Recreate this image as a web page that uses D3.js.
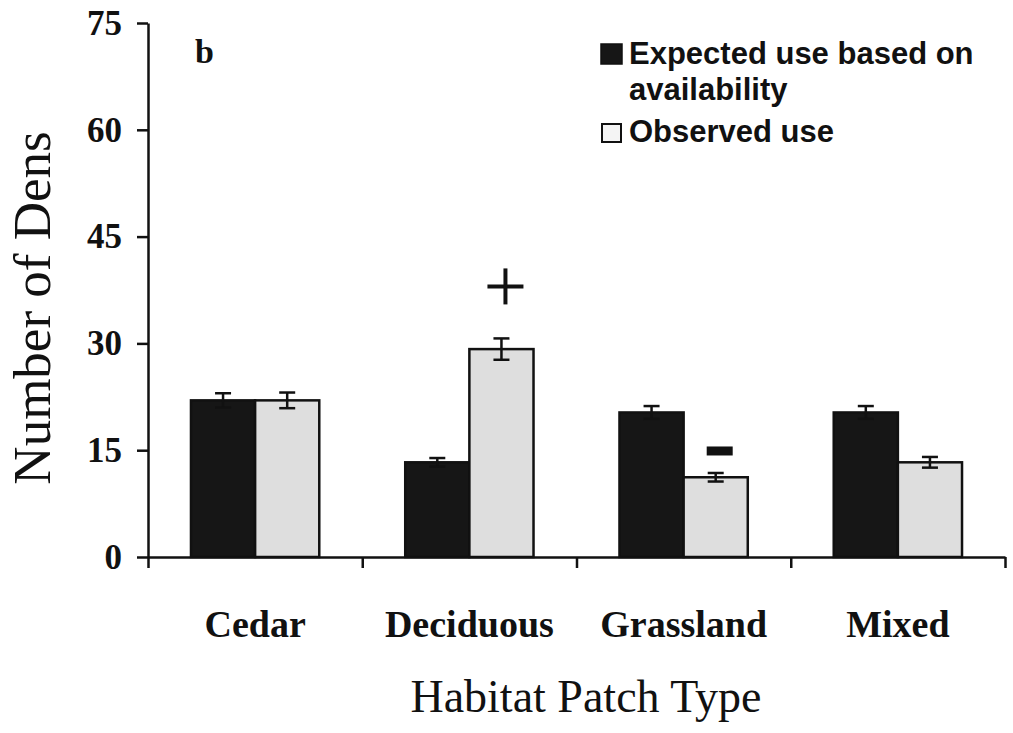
<!DOCTYPE html>
<html>
<head>
<meta charset="utf-8">
<script src="https://cdn.jsdelivr.net/npm/d3@7"></script>
<style>
  body { margin: 0; background: #fff; }
  svg { display: block; }
  .serif { font-family: "Liberation Serif", "Times New Roman", serif; }
  .sans { font-family: "Liberation Sans", Arial, sans-serif; }
</style>
</head>
<body>
<svg width="1013" height="733"></svg>
<script>
"use strict";

var categories = ["Cedar", "Deciduous", "Grassland", "Mixed"],
    series = ["Expected use based on availability", "Observed use"],
    expected = [22, 13.3, 20.3, 20.3],
    expectedErr = [1.0, 0.6, 0.9, 0.9],
    observed = [22, 29.2, 11.2, 13.3],
    observedErr = [1.1, 1.5, 0.6, 0.75],
    signif = ["", "+", "-", ""],
    yTicks = [0, 15, 30, 45, 60, 75];

var svg = d3.select("svg"),
    plotLeft = 148, plotRight = 1005,
    plotTop = 23, plotBottom = 557;

var fills = ["#161616", "#dedede"];

var rows = categories.map(function(c, i) {
  return {cat: c, vals: [
    {s: 0, v: expected[i], e: expectedErr[i]},
    {s: 1, v: observed[i], e: observedErr[i]}
  ], sig: signif[i]};
});

var x0 = d3.scaleBand().domain(categories).range([plotLeft, plotRight]),
    x1 = d3.scaleBand().domain([0, 1]).range([0, x0.bandwidth()]).paddingOuter(0.67),
    y = d3.scaleLinear().domain([0, 75]).range([plotBottom, plotTop]);

// bars
var groups = svg.append("g").selectAll("g")
    .data(rows)
    .enter().append("g")
    .attr("transform", d => "translate(" + x0(d.cat) + ",0)");

groups.selectAll("rect")
    .data(d => d.vals)
    .enter().append("rect")
    .attr("x", d => x1(d.s))
    .attr("width", x1.bandwidth())
    .attr("y", d => y(d.v))
    .attr("height", d => y(0) - y(d.v))
    .attr("fill", d => fills[d.s])
    .attr("stroke", "#111")
    .attr("stroke-width", 2.5);

// error bars
var eb = groups.selectAll("g.err")
    .data(d => d.vals)
    .enter().append("g").attr("class", "err")
    .attr("stroke", "#111")
    .attr("stroke-width", 2.5);
eb.append("line")
    .attr("x1", d => x1(d.s) + x1.bandwidth() / 2)
    .attr("x2", d => x1(d.s) + x1.bandwidth() / 2)
    .attr("y1", d => y(d.v + d.e))
    .attr("y2", d => y(d.v - d.e));
[1, -1].forEach(function(sgn) {
  eb.append("line")
    .attr("x1", d => x1(d.s) + x1.bandwidth() / 2 - 8)
    .attr("x2", d => x1(d.s) + x1.bandwidth() / 2 + 8)
    .attr("y1", d => y(d.v + sgn * d.e))
    .attr("y2", d => y(d.v + sgn * d.e));
});

// significance marks over observed bars
groups.filter(d => d.sig === "+").each(function(d) {
  var o = d.vals[1],
      cx = x1(1) + x1.bandwidth() / 2 + 4,
      cy = y(o.v + o.e) - 52;
  var g = d3.select(this).append("g").attr("stroke", "#111").attr("stroke-width", 4);
  g.append("line").attr("x1", cx - 18).attr("x2", cx + 18).attr("y1", cy).attr("y2", cy);
  g.append("line").attr("x1", cx).attr("x2", cx).attr("y1", cy - 18).attr("y2", cy + 18);
});
groups.filter(d => d.sig === "-").each(function(d) {
  var o = d.vals[1],
      cx = x1(1) + x1.bandwidth() / 2 + 4,
      cy = y(o.v + o.e) - 22;
  d3.select(this).append("rect")
    .attr("x", cx - 13).attr("y", cy - 4.5)
    .attr("width", 26).attr("height", 9)
    .attr("fill", "#111");
});

// y axis
var yAxis = svg.append("g")
    .attr("transform", "translate(" + plotLeft + ",0)")
    .call(d3.axisLeft(y).tickValues(yTicks).tickSize(11).tickPadding(15).tickSizeOuter(0));
yAxis.select(".domain").attr("stroke", "#111").attr("stroke-width", 2.5);
yAxis.selectAll(".tick line").attr("stroke", "#111").attr("stroke-width", 2.5);
yAxis.selectAll("text")
    .attr("class", "serif")
    .attr("font-size", 35)
    .attr("font-weight", "bold")
    .attr("fill", "#111");

// x axis with ticks at category boundaries
var xb = d3.scaleLinear().domain([0, categories.length]).range([plotLeft, plotRight]);
var xAxis = svg.append("g")
    .attr("transform", "translate(0," + plotBottom + ")")
    .call(d3.axisBottom(xb).ticks(categories.length).tickSize(11).tickFormat("").tickSizeOuter(0));
xAxis.select(".domain").attr("stroke", "#111").attr("stroke-width", 2.5);
xAxis.selectAll(".tick line").attr("stroke", "#111").attr("stroke-width", 2.5);

svg.append("g").selectAll("text")
    .data(categories)
    .enter().append("text")
    .attr("class", "serif")
    .attr("x", d => x0(d) + x0.bandwidth() / 2)
    .attr("y", 637)
    .attr("text-anchor", "middle")
    .attr("font-size", 38)
    .attr("font-weight", "bold")
    .attr("fill", "#111")
    .text(d => d);

// axis titles
svg.append("text")
    .attr("class", "serif")
    .attr("x", 586)
    .attr("y", 712)
    .attr("text-anchor", "middle")
    .attr("font-size", 46)
    .attr("fill", "#111")
    .text("Habitat Patch Type");

svg.append("text")
    .attr("class", "serif")
    .attr("transform", "translate(50," + ((y(0) + y(75)) / 2 + 18) + ") rotate(-90)")
    .attr("text-anchor", "middle")
    .attr("font-size", 53)
    .attr("fill", "#111")
    .text("Number of Dens");

// panel letter
svg.append("text")
    .attr("class", "serif")
    .attr("x", 195)
    .attr("y", 63)
    .attr("font-size", 34)
    .attr("font-weight", "bold")
    .attr("fill", "#111")
    .text("b");

// legend
var legend = svg.append("g").attr("class", "sans");
legend.append("rect").attr("x", 601).attr("y", 44).attr("width", 21).attr("height", 20)
    .attr("fill", fills[0]).attr("stroke", "#111").attr("stroke-width", 1.5);
legend.append("text").attr("x", 629).attr("y", 64).attr("font-size", 31).attr("font-weight", "bold")
    .attr("fill", "#111").text("Expected use based on");
legend.append("text").attr("x", 629).attr("y", 100).attr("font-size", 31).attr("font-weight", "bold")
    .attr("fill", "#111").text("availability");
legend.append("rect").attr("x", 602).attr("y", 124).attr("width", 19).attr("height", 18)
    .attr("fill", "#f4f4f4").attr("stroke", "#111").attr("stroke-width", 2);
legend.append("text").attr("x", 629).attr("y", 142).attr("font-size", 31).attr("font-weight", "bold")
    .attr("fill", "#111").text("Observed use");
</script>
</body>
</html>
